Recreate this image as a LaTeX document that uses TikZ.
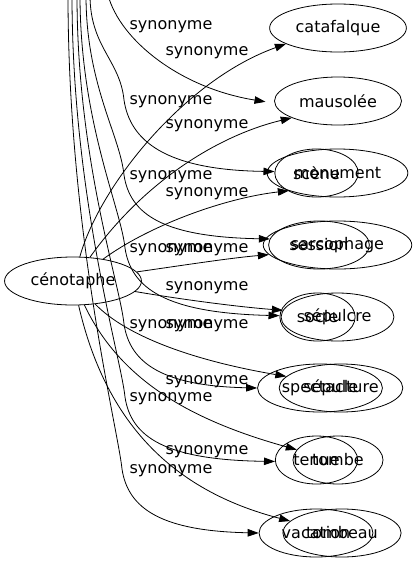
\documentclass[tikz,border=0pt]{standalone}
\usepackage{fontspec}
\setmainfont{DejaVu Sans}
\usetikzlibrary{shapes.geometric, arrows.meta}

\begin{document}
\begin{tikzpicture}[
    x=1pt, y=-1pt,
    word/.style={ellipse, draw, line width=0.8pt, inner xsep=6pt, inner ysep=0pt, minimum height=48pt, font=\fontsize{16}{19}\selectfont},
    rel/.style={inner sep=0pt, font=\fontsize{16}{19}\selectfont},
    syn/.style={line width=0.8pt, -{Triangle[length=11pt, width=7.5pt]}}
    ]
    \useasboundingbox (0,0) rectangle (416,563);
    \clip (0,0) rectangle (416,563);

    % --- Source word ---
    \node[word] (ceno) at (73,281) {cénotaphe};

    % --- Synonyms, two lists sharing the rows ---
    \node[word] (cata) at (338,28) {catafalque};
    \node[word] (mauso) at (338,101) {mausolée};
    \node[word] (monu) at (337.5,173) {monument};
    \node[word] (scene) at (316.5,173) {scène};
    \node[word] (sarco) at (337.5,245) {sarcophage};
    \node[word] (session) at (319,245) {session};
    \node[word] (sepulcre) at (337.5,317) {sépulcre};
    \node[word] (socle) at (317.5,317) {socle};
    \node[word] (sepult) at (341,388) {sépulture};
    \node[word] (spect) at (320,388) {spectacle};
    \node[word] (tombe) at (338,460) {tombe};
    \node[word] (tenue) at (316.5,460) {tenue};
    \node[word] (tombeau) at (342,533) {tombeau};
    \node[word] (vacation) at (316,533) {vacation};

    % --- Free ends above the frame ---
    \coordinate (up1) at (108,-5);
    \coordinate (up2) at (90,-5);
    \coordinate (up3) at (86,-5);
    \coordinate (up4) at (80,-5);
    \coordinate (up5) at (77,-5);
    \coordinate (up6) at (72,-5);
    \coordinate (up7) at (68,-5);

    % --- Edge labels ---
    \node[rel] (s1) at (171,26.5) {synonyme};
    \node[rel] (s2) at (207,52.5) {synonyme};
    \node[rel] (s3) at (171,101.5) {synonyme};
    \node[rel] (s4) at (207,125.5) {synonyme};
    \node[rel] (s5) at (171,176.5) {synonyme};
    \node[rel] (s6) at (207,193.5) {synonyme};
    \node[rel] (s7) at (171,249.5) {synonyme};
    \node[rel] (s8) at (207,249.5) {synonyme};
    \node[rel] (s9) at (207,287.5) {synonyme};
    \node[rel] (s10) at (171,325.5) {synonyme};
    \node[rel] (s11) at (207,325.5) {synonyme};
    \node[rel] (s12) at (207,381.5) {synonyme};
    \node[rel] (s13) at (171,398.5) {synonyme};
    \node[rel] (s14) at (207,451.5) {synonyme};
    \node[rel] (s15) at (171,470.5) {synonyme};

    % --- Edges from cenotaphe ---
    \draw[syn] (ceno) .. controls (100,185) and (185,80) .. (cata.197);
    \draw[syn] (ceno) .. controls (145,180) and (220,135) .. (mauso.200);
    \draw[syn] (ceno) .. controls (150,225) and (225,198) .. (monu.200);
    \draw[syn] (ceno) .. controls (185,265) and (230,258) .. (sarco.188);
    \draw[syn] (ceno) .. controls (185,300) and (240,307) .. (sepulcre.173);
    \draw[syn] (ceno) .. controls (125,335) and (190,360) .. (sepult.168);
    \draw[syn] (ceno) .. controls (120,380) and (190,420) .. (tombe.166);
    \draw[syn] (ceno) .. controls (105,420) and (170,490) .. (tombeau.167);

    % --- Edges from the word above ---
    \draw[syn, shorten >=9pt] (up1) .. controls (120,40) and (180,88) .. (mauso.182);
    \draw[syn] (up2) .. controls (90,47) and (120,60) .. (124,100)
        .. controls (130,140) and (164,170) .. (scene.178);
    \draw[syn] (up3) .. controls (86,85) and (120,135) .. (124,175)
        .. controls (130,215) and (164,237) .. (session.173);
    \draw[syn] (up4) .. controls (80,122) and (121,208) .. (125,248)
        .. controls (131,288) and (165,313) .. (socle.178);
    \draw[syn] (up5) .. controls (77,160) and (120,284) .. (124,324)
        .. controls (130,364) and (164,386) .. (spect.180);
    \draw[syn] (up6) .. controls (72,196) and (121,357) .. (125,397)
        .. controls (131,437) and (165,460) .. (tenue.182);
    \draw[syn] (up7) .. controls (68,232) and (118,429) .. (122,469)
        .. controls (128,509) and (162,531) .. (vacation.180);
\end{tikzpicture}
\end{document}
